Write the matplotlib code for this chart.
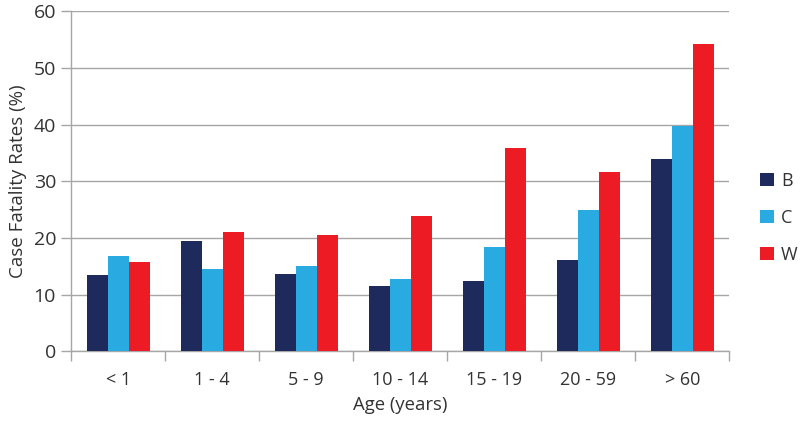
import matplotlib
matplotlib.use("Agg")
import matplotlib.pyplot as plt
import numpy as np

categories = ["< 1", "1 - 4", "5 - 9", "10 - 14", "15 - 19", "20 - 59", "> 60"]
series_names = ["B", "C", "W"]
B = [13.5, 19.5, 13.6, 11.5, 12.4, 16.2, 33.9]
C = [16.8, 14.6, 15.0, 12.8, 18.5, 24.9, 39.8]
W = [15.7, 21.1, 20.5, 23.8, 35.9, 31.6, 54.3]
colors = ["#1f2a5c", "#29abe2", "#ed1c24"]

plt.rcParams['font.family'] = ['Open Sans', 'DejaVu Sans']

fig = plt.figure(figsize=(8.0, 4.22), dpi=100)
ax = fig.add_axes([0.0891, 0.1675, 0.8225, 0.8055])

x = np.arange(len(categories))
w = 0.223
for i, (vals, name, col) in enumerate(zip([B, C, W], series_names, colors)):
    ax.bar(x + (i - 1) * w, vals, width=w, color=col, label=name, zorder=3)

ax.set_xlim(-0.5, len(categories) - 0.5)
ax.set_ylim(0, 60)
ax.set_yticks(np.arange(0, 61, 10))
ax.yaxis.grid(True, color="#a6a6a6", linewidth=1.0, zorder=0)
ax.set_axisbelow(True)

for s in ["top", "right"]:
    ax.spines[s].set_visible(False)
for s in ["left", "bottom"]:
    ax.spines[s].set_color("#a6a6a6")
    ax.spines[s].set_linewidth(1.0)

ax.set_xticks(x)
ax.set_xticklabels(categories)
ax.set_xticks(np.arange(-0.5, len(categories)), minor=True)
ax.tick_params(axis="x", which="major", length=0, pad=14, labelsize=13, colors="#333333")
ax.tick_params(axis="x", which="minor", length=7, color="#a6a6a6", width=1.0)
ax.tick_params(axis="y", length=7, color="#a6a6a6", width=1.0, labelsize=14, pad=4, labelcolor="#333333")

ax.set_xlabel("Age (years)", fontsize=13.3, color="#333333", labelpad=5)
ax.set_ylabel("Case Fatality Rates (%)", fontsize=13.5, color="#333333", labelpad=5)

leg = ax.legend(loc="center left", bbox_to_anchor=(1.022, 0.392), frameon=False,
                fontsize=13, handlelength=0.75, handleheight=0.75,
                handletextpad=0.4, labelspacing=1.05)
for t in leg.get_texts():
    t.set_color("#333333")

fig.savefig("out.png", dpi=100)
